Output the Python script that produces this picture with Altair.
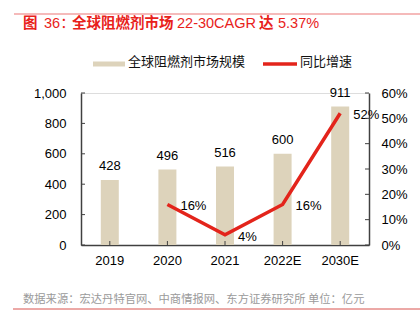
import altair as alt
import pandas as pd

years = ["2019", "2020", "2021", "2022E", "2030E"]
market = [428, 496, 516, 600, 911]
growth_years = ["2020", "2021", "2022E", "2030E"]
growth = [0.16, 0.04, 0.16, 0.52]
growth_labels = ["16%", "4%", "16%", "52%"]

left_ticks = [0, 200, 400, 600, 800, 1000]
right_ticks = [0, 0.1, 0.2, 0.3, 0.4, 0.5, 0.6]

title_parts = ["图", "36：", "全球阻燃剂市场", "22-30CAGR", "达", "5.37%"]
title_bold = [True, False, True, False, True, False]
title_x = [23, 44, 72, 177, 259, 278]
legend_bar = "全球阻燃剂市场规模"
legend_line = "同比增速"
footer_text = "数据来源：宏达丹特官网、中商情报网、东方证券研究所 单位：亿元"

CJK = "Noto Sans CJK SC"
LAT = "Liberation Sans"
MIX = "Liberation Sans, Noto Sans CJK SC"

OX, OY = 81, 93
W, H = 288, 152
AX = "#404040"

bars_df = pd.DataFrame({"year": years, "value": market})
line_df = pd.DataFrame({"year": growth_years, "rate": growth, "label": growth_labels})
lt_df = pd.DataFrame({"value": left_ticks})
rt_df = pd.DataFrame({"rate": right_ticks})

xenc = alt.X("year:N", sort=years, title=None,
             scale=alt.Scale(paddingInner=0.0, paddingOuter=0.0),
             axis=alt.Axis(labelAngle=0, labelFont=LAT, labelFontSize=13, labelColor="#000",
                           domainColor=AX, ticks=False,
                           labelPadding=9, domainWidth=1.5))

yleft = alt.Y("value:Q", title=None,
              scale=alt.Scale(domain=[0, 1000]),
              axis=alt.Axis(values=left_ticks, format=",.0f", grid=False,
                            labelFont=LAT, labelFontSize=13, labelColor="#000",
                            domainColor=AX, ticks=False, labelPadding=15,
                            domainWidth=1.5))

yright = alt.Y("rate:Q", title=None,
               scale=alt.Scale(domain=[0, 0.6]),
               axis=alt.Axis(orient="right", values=right_ticks,
                             format=".0%", grid=False, labelFont=LAT, labelFontSize=13,
                             labelColor="#000", domainColor=AX, ticks=False,
                             labelPadding=12, domainWidth=1.5))

bars = alt.Chart(bars_df).mark_bar(size=18, color="#ddd3bb").encode(x=xenc, y=yleft)
bar_text = alt.Chart(bars_df).mark_text(font=LAT, fontSize=13, baseline="bottom", dy=-7,
                                        color="#000").encode(
    x=xenc, y=yleft, text="value:Q")
xticks = alt.Chart(bars_df).mark_rule(color=AX, strokeWidth=1).encode(
    x=xenc, y=alt.value(H), y2=alt.value(H - 4))
lticks = alt.Chart(lt_df).mark_rule(color=AX, strokeWidth=1).encode(
    y=yleft, x=alt.value(0), x2=alt.value(4))
left = alt.layer(bars, bar_text, xticks, lticks)

line = alt.Chart(line_df).mark_line(color="#e3241b", strokeWidth=3.5).encode(x=xenc, y=yright)
line_text = alt.Chart(line_df).mark_text(font=LAT, fontSize=13, align="left", dx=13, dy=2,
                                         color="#000").encode(
    x=xenc, y=yright, text="label:N")
rticks = alt.Chart(rt_df).mark_rule(color=AX, strokeWidth=1).encode(
    y=yright, x=alt.value(W - 4), x2=alt.value(W))
right = alt.layer(line, line_text, rticks)

one = pd.DataFrame({"a": [0]})

def txt(s, x, y, size, color, font=CJK, weight="normal"):
    return alt.Chart(pd.DataFrame({"t": [s]})).mark_text(
        font=font, fontSize=size, color=color, align="left", baseline="middle",
        fontWeight=weight).encode(text="t:N", x=alt.value(x - OX), y=alt.value(y - OY))

def hrule(x1, x2, y, color, w):
    return alt.Chart(one).mark_rule(color=color, strokeWidth=w).encode(
        x=alt.value(x1 - OX), x2=alt.value(x2 - OX), y=alt.value(y - OY))

title_layers = [
    txt(p, x, 24, 14.5, "#e8221b", font=(CJK if b else MIX), weight=("bold" if b else "normal"))
    for p, b, x in zip(title_parts, title_bold, title_x)
]

deco = alt.layer(
    hrule(14, 420, 14, "#f2a3a3", 1.5),
    *title_layers,
    hrule(93, 125, 64, "#ddd3bb", 5),
    txt(legend_bar, 128, 62, 13, "#111"),
    hrule(263, 297, 64, "#e3241b", 3.5),
    txt(legend_line, 300, 62, 13, "#111"),
    txt(footer_text, 23, 300, 11.3, "#9a9a9a"),
    hrule(13, 420, 309, "#d9534f", 1),
)

chart = alt.layer(left, right, deco).resolve_scale(y="independent").properties(
    width=W, height=H,
    autosize=alt.AutoSizeParams(type="none"),
    padding={"left": OX, "top": OY, "right": 420 - OX - W, "bottom": 326 - OY - H},
).configure_view(stroke=None).configure(background="#ffffff")

chart.save("out.html", embed_options={"renderer": "svg", "actions": False})
